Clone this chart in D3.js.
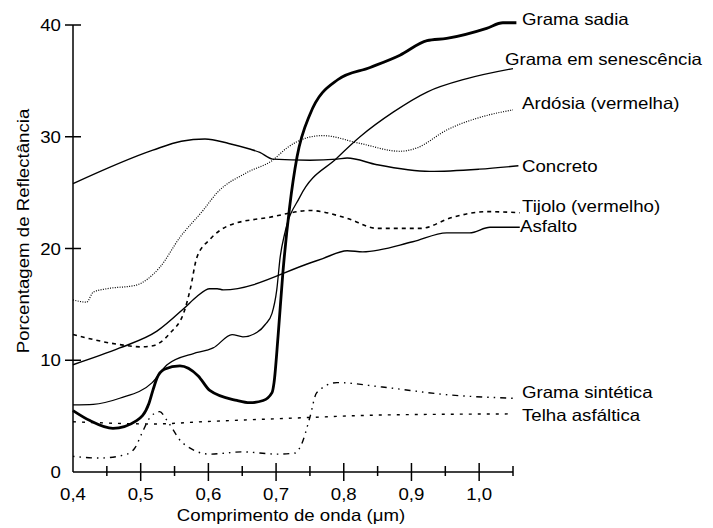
<!doctype html>
<html>
<head>
<meta charset="UTF-8">
<script src="https://d3js.org/d3.v7.min.js"></script>
<style>
  body { margin: 0; background: #fff; }
  text { font-family: "Liberation Sans", Arial, sans-serif; fill: #000; }
</style>
</head>
<body>
<svg id="chart"></svg>
<script>
// wavelength (um) and reflectance (%)
let gramaSadiaX = [0.40, 0.425, 0.459, 0.494, 0.512, 0.518, 0.524, 0.535, 0.558, 0.585, 0.602, 0.642, 0.661, 0.681, 0.694, 0.697, 0.703, 0.71, 0.72, 0.731, 0.75, 0.791, 0.839, 0.883, 0.923, 0.952, 1.011, 1.035, 1.055];
let gramaSadiaY = [5.5, 4.6, 3.9, 4.6, 6.1, 7.3, 8.4, 9.2, 9.5, 8.6, 7.3, 6.4, 6.2, 6.4, 7.1, 8.0, 12.2, 17.8, 23.7, 28.2, 32.0, 35.1, 36.2, 37.3, 38.6, 38.8, 39.7, 40.2, 40.2];

let senescenciaX = [0.40, 0.43, 0.469, 0.517, 0.539, 0.578, 0.598, 0.607, 0.635, 0.651, 0.672, 0.684, 0.694, 0.701, 0.706, 0.713, 0.735, 0.79, 0.824, 0.873, 0.923, 0.982, 1.05];
let senescenciaY = [6.0, 6.05, 6.6, 8.0, 9.6, 10.6, 10.9, 11.1, 12.3, 12.1, 12.5, 13.2, 14.2, 16.3, 19.2, 21.4, 24.6, 28.1, 30.0, 32.2, 34.0, 35.2, 36.1];

let ardosiaX = [0.40, 0.42, 0.43, 0.45, 0.492, 0.528, 0.558, 0.592, 0.613, 0.657, 0.695, 0.716, 0.745, 0.769, 0.824, 0.883, 0.908, 0.952, 1.011, 1.05];
let ardosiaY = [15.4, 15.2, 16.1, 16.4, 16.7, 18.3, 21.0, 23.4, 25.0, 26.8, 27.9, 29.0, 29.9, 30.1, 29.4, 28.7, 29.0, 30.6, 31.9, 32.4];

let concretoX = [0.40, 0.518, 0.56, 0.595, 0.63, 0.661, 0.676, 0.695, 0.75, 0.79, 0.805, 0.849, 0.927, 1.0, 1.058];
let concretoY = [25.8, 28.8, 29.6, 29.8, 29.4, 28.9, 28.6, 28.0, 27.9, 28.0, 28.1, 27.5, 26.9, 27.1, 27.4];

let tijoloX = [0.40, 0.469, 0.50, 0.518, 0.543, 0.565, 0.573, 0.583, 0.602, 0.632, 0.691, 0.75, 0.805, 0.849, 0.913, 0.961, 1.011, 1.06];
let tijoloY = [12.3, 11.4, 11.2, 11.3, 12.4, 14.5, 16.3, 19.2, 20.8, 22.1, 22.8, 23.4, 22.7, 21.8, 21.8, 22.8, 23.3, 23.2];

let asfaltoX = [0.40, 0.469, 0.524, 0.565, 0.583, 0.602, 0.613, 0.622, 0.75, 0.769, 0.805, 0.828, 0.902, 0.952, 0.986, 1.016, 1.06];
let asfaltoY = [9.6, 11.1, 12.6, 14.7, 15.7, 16.4, 16.4, 16.3, 18.7, 19.1, 19.8, 19.7, 20.6, 21.4, 21.4, 21.9, 21.9];

let sinteticaX = [0.40, 0.44, 0.48, 0.492, 0.502, 0.514, 0.528, 0.539, 0.562, 0.602, 0.651, 0.701, 0.728, 0.737, 0.75, 0.76, 0.79, 0.857, 0.956, 1.05];
let sinteticaY = [1.4, 1.25, 1.6, 2.2, 3.5, 4.9, 5.4, 4.6, 2.6, 1.6, 1.8, 1.6, 1.7, 2.4, 4.9, 7.1, 8.0, 7.6, 6.9, 6.6];

let telhaX = [0.40, 0.52, 0.592, 0.716, 0.857, 1.05];
let telhaY = [4.5, 4.3, 4.5, 4.8, 5.1, 5.2];

let xTicks = [0.4, 0.5, 0.6, 0.7, 0.8, 0.9, 1.0];
let xMinorTicks = [0.45, 0.55, 0.65, 0.75, 0.85, 0.95, 1.05];
let yTicks = [0, 10, 20, 30, 40];

let seriesNames = ["Grama sadia", "Grama em senescência", "Ardósia (vermelha)", "Concreto",
                   "Tijolo (vermelho)", "Asfalto", "Grama sintética", "Telha asfáltica"];
let labelY = [19.5, 59, 103.5, 166, 206.5, 226, 392, 415];   // label rows in px (cap middle)
let labelX = [522, 505, 522, 522, 522, 520, 522, 522];

(function(){
  let W = 713, H = 528;
  let svg = d3.select("#chart").attr("width", W).attr("height", H);

  let x = d3.scaleLinear().domain([0.4, 1.05]).range([73, 513]);
  let y = d3.scaleLinear().domain([0, 40]).range([472, 25]);

  let series = [
    {xs: gramaSadiaX, ys: gramaSadiaY, w: 2.8, dash: null},
    {xs: senescenciaX, ys: senescenciaY, w: 1.3, dash: null},
    {xs: ardosiaX, ys: ardosiaY, w: 1.2, dash: "1,1.4"},
    {xs: concretoX, ys: concretoY, w: 1.4, dash: null},
    {xs: tijoloX, ys: tijoloY, w: 1.6, dash: "4,4"},
    {xs: asfaltoX, ys: asfaltoY, w: 1.4, dash: null},
    {xs: sinteticaX, ys: sinteticaY, w: 1.4, dash: "1.5,5,1.5,5,6,5"},
    {xs: telhaX, ys: telhaY, w: 1.4, dash: "3,6"}
  ];

  let line = d3.line()
    .x(function(d){ return x(d[0]); })
    .y(function(d){ return y(d[1]); })
    .curve(d3.curveMonotoneX);

  svg.selectAll(".serie")
    .data(series)
    .enter().append("path")
      .attr("class", "serie")
      .attr("d", function(s){ return line(d3.zip(s.xs, s.ys)); })
      .attr("fill", "none")
      .attr("stroke", "#000")
      .attr("stroke-width", function(s){ return s.w; })
      .attr("stroke-dasharray", function(s){ return s.dash; })
      .attr("stroke-linejoin", "round");

  // axes
  let axes = svg.append("g").attr("stroke", "#000").attr("stroke-width", 1.5);
  axes.append("line").attr("x1", x(0.4)).attr("x2", x(1.05)).attr("y1", y(0)).attr("y2", y(0));
  axes.append("line").attr("x1", x(0.4)).attr("x2", x(0.4)).attr("y1", y(0)).attr("y2", y(40));

  axes.selectAll(".xt").data(xTicks.slice(1)).enter().append("line")
    .attr("x1", function(d){ return x(d); }).attr("x2", function(d){ return x(d); })
    .attr("y1", y(0) - 9).attr("y2", y(0) + 9);
  axes.selectAll(".xm").data(xMinorTicks).enter().append("line")
    .attr("x1", function(d){ return x(d); }).attr("x2", function(d){ return x(d); })
    .attr("y1", y(0) - 6).attr("y2", y(0) + 4);
  axes.selectAll(".yt").data(yTicks.slice(1)).enter().append("line")
    .attr("x1", x(0.4) - 8).attr("x2", x(0.4) + 8)
    .attr("y1", function(d){ return y(d); }).attr("y2", function(d){ return y(d); });

  let fs = 16.5;
  svg.selectAll(".xl").data(xTicks).enter().append("text")
    .attr("class", "wide")
    .attr("x", function(d){ return x(d); })
    .attr("y", 500)
    .attr("text-anchor", "middle")
    .style("font-size", fs + "px")
    .text(function(d){ return d.toFixed(1).replace(".", ","); });

  svg.selectAll(".yl").data(yTicks).enter().append("text")
    .attr("class", "wide")
    .attr("x", 61)
    .attr("y", function(d){ return y(d) + 6; })
    .attr("text-anchor", "end")
    .style("font-size", fs + "px")
    .text(function(d){ return d; });

  svg.append("text")
    .attr("class", "wide")
    .attr("x", 291).attr("y", 521)
    .attr("text-anchor", "middle")
    .style("font-size", fs + "px")
    .text("Comprimento de onda (μm)");

  svg.append("text")
    .attr("class", "wide")
    .attr("transform", "translate(29,231) rotate(-90)")
    .attr("text-anchor", "middle")
    .style("font-size", fs + "px")
    .text("Porcentagem de Reflectância");

  svg.selectAll(".lab").data(seriesNames).enter().append("text")
    .attr("class", "wide")
    .attr("x", function(d, i){ return labelX[i]; })
    .attr("y", function(d, i){ return labelY[i] + 5.9; })
    .style("font-size", fs + "px")
    .text(function(d){ return d; });

  // the printed lettering is a little wider than Arial
  svg.selectAll("text.wide").each(function(){
    let len = this.getComputedTextLength();
    d3.select(this).attr("textLength", len * 1.13).attr("lengthAdjust", "spacingAndGlyphs");
  });
})();
</script>
</body>
</html>
